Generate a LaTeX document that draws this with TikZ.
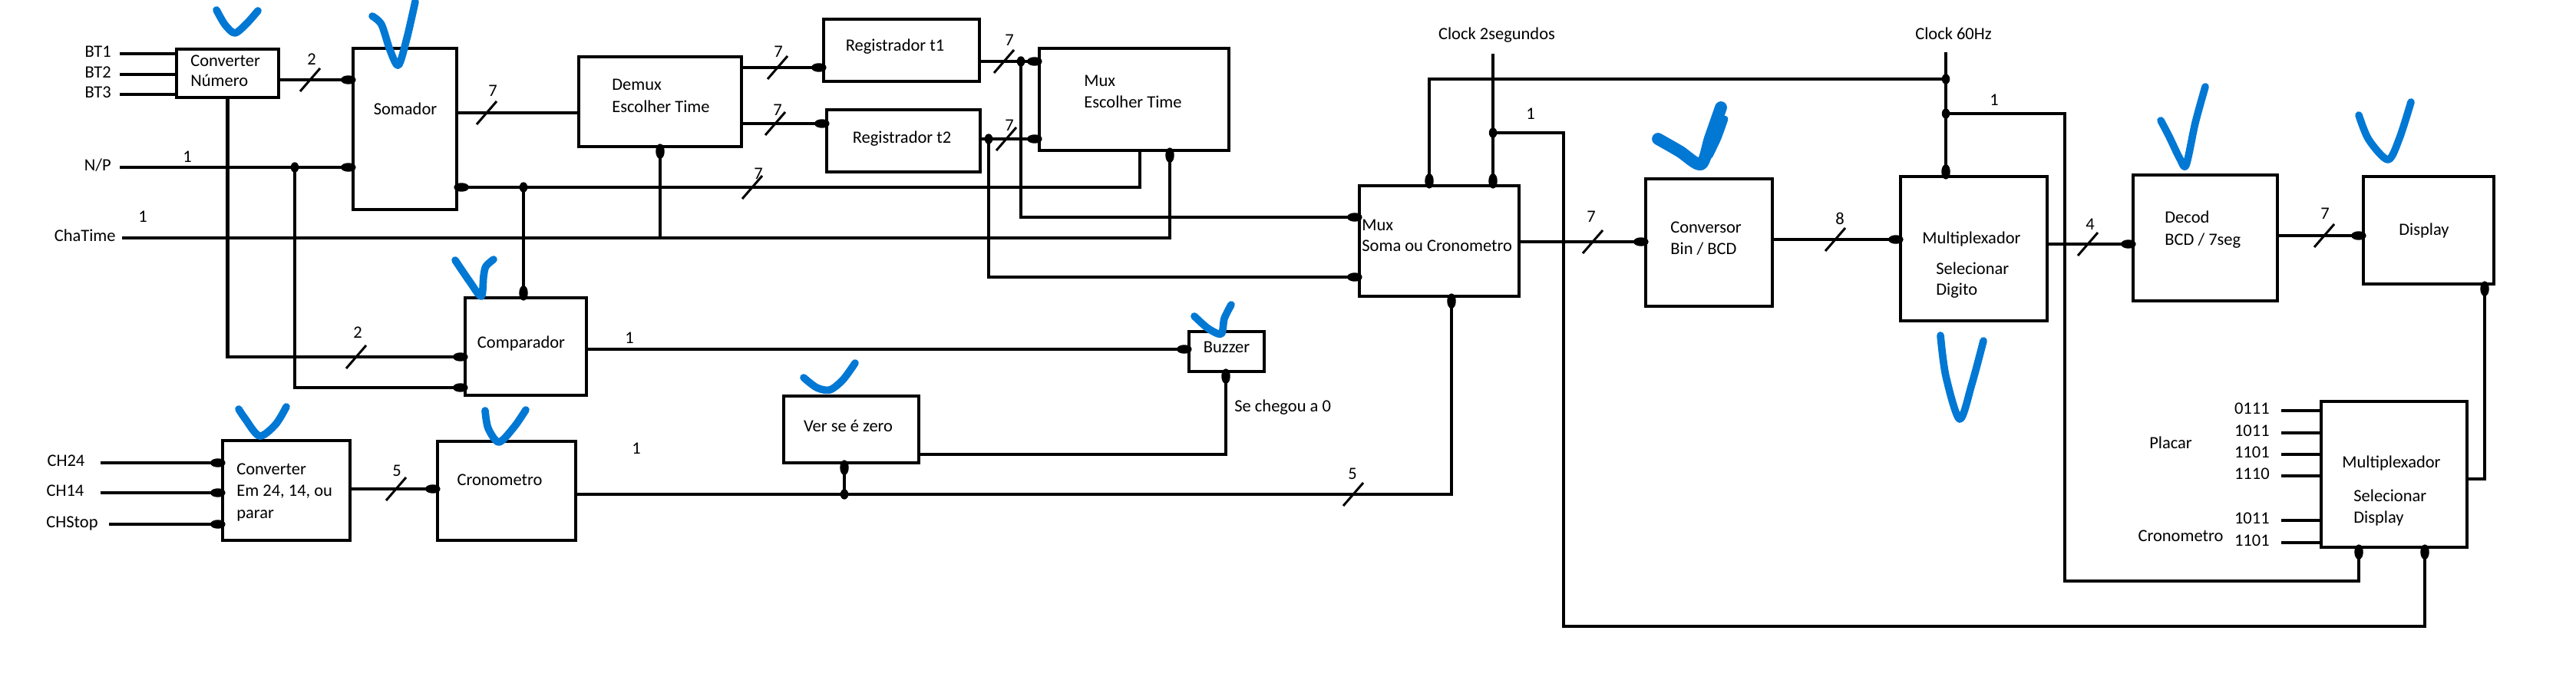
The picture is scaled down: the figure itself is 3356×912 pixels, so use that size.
\documentclass[tikz,border=0pt]{standalone}
\usepackage{fontspec}
\setmainfont{Carlito}
\usetikzlibrary{arrows.meta}
\definecolor{checkblue}{RGB}{0,120,212}
\newcommand\mkbox[5]{\node[blk,minimum width={(#4-#2)*0.02cm},minimum height={(#5-#3)*0.02cm}] (#1) at ({(#2+#4)/2},{(#3+#5)/2}) {};}
\newcommand\bus[2]{\draw[busmark] ({#1-13},{#2+15}) -- ({#1+13},{#2-15});}
\newcommand\jdot[1]{\fill #1 ellipse [x radius=3pt, y radius=3.8pt];}
\tikzset{
  blk/.style={draw, line width=2.7pt, inner sep=0pt, outer sep=0pt},
  wire/.style={line width=2.3pt},
  thinwire/.style={line width=1.8pt},
  feed/.style={wire, -{Circle[length=11pt,width=6.5pt]}, shorten >=-2pt},
  thinfeed/.style={thinwire, -{Circle[length=11pt,width=6.5pt]}, shorten >=-2pt},
  busmark/.style={line width=1.7pt},
  txt/.style={font=\fontsize{12.8}{15}\selectfont, inner sep=0pt},
  bluecheck/.style={draw=checkblue, line width=5.5pt, line cap=round, line join=round},
}
\begin{document}
\begin{tikzpicture}[x=0.02cm,y=-0.02cm]
\fill[white] (0,0) rectangle (3356,912);
\useasboundingbox (0,0) rectangle (3356,912);

% ---------- boxes ----------
\mkbox{cn}{230}{64}{363}{127}
\mkbox{som}{460}{63}{595}{273}
\mkbox{dmx}{754}{74}{966}{191}
\mkbox{r1}{1073}{25}{1276}{106}
\mkbox{r2}{1077}{143}{1277}{224}
\mkbox{mxt}{1354}{63}{1601}{196}
\mkbox{cmp}{606}{388}{764}{515}
\mkbox{cv}{290}{574}{456}{704}
\mkbox{cr}{570}{575}{750}{704}
\mkbox{vz}{1021}{516}{1197}{603}
\mkbox{bz}{1549}{432}{1647}{484}
\mkbox{mxs}{1771}{242}{1979}{386}
\mkbox{cbcd}{2144}{233}{2309}{399}
\mkbox{mxd}{2476}{230}{2667}{418}
\mkbox{dec}{2779}{228}{2967}{392}
\mkbox{dsp}{3079}{230}{3249}{370}
\mkbox{mxsd}{3024}{523}{3214}{713}

% ---------- box texts ----------
\node[txt,anchor=mid west] (tcn1) at (248,82) {Converter};
\node[txt,anchor=mid west] (tcn2) at (248,108) {Número};
\node[txt,anchor=mid] (tsom) at (528,145) {Somador};
\node[txt,anchor=mid west] (tdmx1) at (797,113) {Demux};
\node[txt,anchor=mid west] (tdmx2) at (797,142) {Escolher Time};
\node[txt,anchor=mid] (tr1) at (1166,62) {Registrador t1};
\node[txt,anchor=mid] (tr2) at (1175,182) {Registrador t2};
\node[txt,anchor=mid west] (tmxt1) at (1412,108) {Mux};
\node[txt,anchor=mid west] (tmxt2) at (1412,136) {Escolher Time};
\node[txt,anchor=mid] (tcmp) at (679,449) {Comparador};
\node[txt,anchor=mid west] (tcv1) at (308,614) {Converter};
\node[txt,anchor=mid west] (tcv2) at (308,642) {Em 24, 14, ou};
\node[txt,anchor=mid west] (tcv3) at (308,671) {parar};
\node[txt,anchor=mid] (tcr) at (651,628) {Cronometro};
\node[txt,anchor=mid] (tvz) at (1105,558) {Ver se é zero};
\node[txt,anchor=mid] (tbz) at (1598,455) {Buzzer};
\node[txt,anchor=mid west] (tse) at (1608,532) {Se chegou a 0};
\node[txt,anchor=mid west] (tmxs1) at (1774,296) {Mux};
\node[txt,anchor=mid west] (tmxs2) at (1774,323) {Soma ou Cronometro};
\node[txt,anchor=mid] (tclk2) at (1950,47) {Clock 2segundos};
\node[txt,anchor=mid] (tclk60) at (2545,47) {Clock 60Hz};
\node[txt,anchor=mid west] (tcb1) at (2176,299) {Conversor};
\node[txt,anchor=mid west] (tcb2) at (2176,327) {Bin / BCD};
\node[txt,anchor=mid west] (tmxd1) at (2504,313) {Multiplexador};
\node[txt,anchor=mid west] (tmxd2) at (2522,353) {Selecionar};
\node[txt,anchor=mid west] (tmxd3) at (2522,380) {Digito};
\node[txt,anchor=mid west] (tdec1) at (2820,286) {Decod};
\node[txt,anchor=mid west] (tdec2) at (2820,315) {BCD / 7seg};
\node[txt,anchor=mid] (tdsp) at (3158,302) {Display};
\node[txt,anchor=mid west] (tmsd1) at (3051,605) {Multiplexador};
\node[txt,anchor=mid west] (tmsd2) at (3066,649) {Selecionar};
\node[txt,anchor=mid west] (tmsd3) at (3066,677) {Display};
\node[txt,anchor=mid] (tplacar) at (2828,580) {Placar};
\node[txt,anchor=mid] (tcrono) at (2841,701) {Cronometro};

% ---------- input labels ----------
\node[txt,anchor=mid east] (lbt1) at (145,70) {BT1};
\node[txt,anchor=mid east] (lbt2) at (145,97) {BT2};
\node[txt,anchor=mid east] (lbt3) at (145,123) {BT3};
\node[txt,anchor=mid east] (lnp) at (145,218) {N/P};
\node[txt,anchor=mid east] (lct) at (151,310) {ChaTime};
\node[txt,anchor=mid] (lch24) at (86,603) {CH24};
\node[txt,anchor=mid] (lch14) at (85,642) {CH14};
\node[txt,anchor=mid] (lchs) at (94,683) {CHStop};

% ---------- free ends and junctions ----------
\coordinate (bt1) at (156,70);
\coordinate (bt2) at (156,97);
\coordinate (bt3) at (156,123);
\coordinate (np) at (156,218);
\coordinate (ct) at (159,310);
\coordinate (ch24) at (131,603);
\coordinate (ch14) at (131,642);
\coordinate (chs) at (142,683);
\coordinate (c2) at (1945,70);
\coordinate (c60) at (2535,68);
\coordinate (jnp) at (384,218);
\coordinate (jfb) at (682,244);
\coordinate (jr1) at (1330,80);
\coordinate (jr2) at (1288,181);
\coordinate (jc2) at (1945,173);
\coordinate (jc60a) at (2535,103);
\coordinate (jc60b) at (2535,148);
\coordinate (jcr) at (1100,644);

% ---------- connectors ----------
\draw[wire] (bt1) -- (cn.west |- bt1);
\draw[wire] (bt2) -- (cn.west |- bt2);
\draw[wire] (bt3) -- (cn.west |- bt3);
\draw[feed] (cn.east |- 0,104) -- (som.west |- 0,104);
\draw[feed] (np) -- (som.west |- np);
\draw[feed] (jnp) |- (cmp.west |- 0,505);
\draw[feed] (cn.south) |- (cmp.west |- 0,465);
\draw[wire] (som.east |- 0,147) -- (dmx.west |- 0,147);
\draw[feed] (mxt.south -| 1485,0) |- (som.east |- 0,244);
\draw[feed] (jfb) -- (cmp.north -| jfb);
\draw[feed] (ct) -| (mxt.south -| 1524,0);
\draw[feed] (dmx.south |- ct) -- (dmx.south);
\draw[feed] (dmx.east |- 0,88) -- (r1.west |- 0,88);
\draw[feed] (dmx.east |- 0,161) -- (r2.west |- 0,161);
\draw[feed] (r1.east |- 0,80) -- (mxt.west |- 0,80);
\draw[feed] (r2.east |- 0,181) -- (mxt.west |- 0,181);
\draw[feed] (jr1) |- (mxs.west |- 0,283);
\draw[feed] (jr2) |- (mxs.west |- 0,361);
\draw[feed] (c2) -- (mxs.north -| c2);
\draw[feed] (c60) -- (mxd.north -| c60);
\draw[feed] (jc60a) -| (mxs.north -| 1862,0);
\draw[feed] (jc2) -| (2037,816) -| (mxsd.south -| 3159,0);
\draw[feed] (jc60b) -| (2690,757) -| (mxsd.south -| 3073,0);
\draw[feed] (mxs.east |- 0,315) -- (cbcd.west |- 0,315);
\draw[feed] (cbcd.east |- 0,312) -- (mxd.west |- 0,312);
\draw[feed] (mxd.east |- 0,318) -- (dec.west |- 0,318);
\draw[feed] (dec.east |- 0,307) -- (dsp.west |- 0,307);
\draw[feed] (mxsd.east |- 0,624) -| (dsp.south -| 3237,0);
\foreach \yy/\lab [count=\i] in {535/0111,564/1011,592/1101,620/1110,678/1011,707/1101}{
  \draw[wire] (2972,\yy) -- (mxsd.west |- 0,\yy);
  \node[txt,anchor=mid east] (lbin\i) at (2957,\yy) {\lab};
}
\draw[feed] (ch24) -- (cv.west |- ch24);
\draw[feed] (ch14) -- (cv.west |- ch14);
\draw[feed] (chs) -- (cv.west |- chs);
\draw[feed] (cv.east |- 0,637) -- (cr.west |- 0,637);
\draw[feed] (cr.east |- 0,644) -| (mxs.south -| 1891,0);
\draw[thinfeed] (jcr) -- (vz.south -| jcr);
\draw[feed] (vz.east |- 0,592) -| (bz.south -| 1597,0);
\draw[feed] (cmp.east |- 0,455) -- (bz.west |- 0,455);

% junction dots
\foreach \j in {jnp,jfb,jr1,jr2,jc2,jc60a,jc60b,jcr}{\jdot{(\j)}}

% bus slashes
\bus{404}{104}
\bus{634}{147}
\bus{464}{465}
\bus{980}{244}
\bus{1013}{88}
\bus{1010}{161}
\bus{1308}{80}
\bus{1311}{181}
\bus{2075}{315}
\bus{2391}{312}
\bus{2720}{318}
\bus{3028}{307}
\bus{516}{637}
\bus{1763}{644}

% width labels
\node[txt] (n1) at (406,77) {2};
\node[txt] (n2) at (642,118) {7};
\node[txt] (n3) at (244,204) {1};
\node[txt] (n4) at (186,282) {1};
\node[txt] (n5) at (466,433) {2};
\node[txt] (n6) at (988,226) {7};
\node[txt] (n7) at (1014,67) {7};
\node[txt] (n8) at (1013,143) {7};
\node[txt] (n9) at (1315,52) {7};
\node[txt] (n10) at (1315,163) {7};
\node[txt] (n11) at (1994,148) {1};
\node[txt] (n12) at (2598,130) {1};
\node[txt] (n13) at (2073,282) {7};
\node[txt] (n14) at (2397,285) {8};
\node[txt] (n15) at (2723,292) {4};
\node[txt] (n16) at (3029,278) {7};
\node[txt] (n17) at (517,613) {5};
\node[txt] (n18) at (1762,617) {5};
\node[txt] (n19) at (829,584) {1};
\node[txt] (n20) at (820,440) {1};

% ---------- blue hand-drawn checks ----------
\draw[bluecheck] plot[smooth] coordinates {(282,13) (293,32) (306,43) (322,30) (336,14)};
\draw[bluecheck] plot[smooth] coordinates {(485,21) (497,32) (508,65) (519,85) (530,50) (541,2)};
\draw[bluecheck] plot[smooth] coordinates {(593,339) (612,367) (627,386) (630,360) (633,347) (643,338)};
\draw[bluecheck] plot[smooth] coordinates {(311,533) (319,545) (338,568) (359,553) (373,530)};
\draw[bluecheck] plot[smooth] coordinates {(632,535) (636,558) (650,576) (670,556) (685,534)};
\draw[bluecheck] plot[smooth] coordinates {(1047,492) (1064,505) (1081,508) (1098,495) (1114,473)};
\draw[bluecheck] plot[smooth] coordinates {(1556,412) (1574,428) (1591,435) (1595,415) (1604,397)};
\draw[bluecheck,line width=9pt] plot[smooth] coordinates {(2160,181) (2188,197) (2216,214) (2228,180) (2242,140)};
\draw[bluecheck,line width=5pt] plot[smooth] coordinates {(2247,155) (2238,180) (2227,203)};
\draw[bluecheck] plot[smooth] coordinates {(2815,157) (2826,178) (2840,207) (2848,215) (2860,160) (2873,113)};
\draw[bluecheck] plot[smooth] coordinates {(3073,150) (3086,182) (3111,208) (3126,180) (3141,133)};
\draw[bluecheck] plot[smooth] coordinates {(2528,437) (2535,490) (2553,546) (2569,500) (2584,444)};
\end{tikzpicture}
\end{document}
